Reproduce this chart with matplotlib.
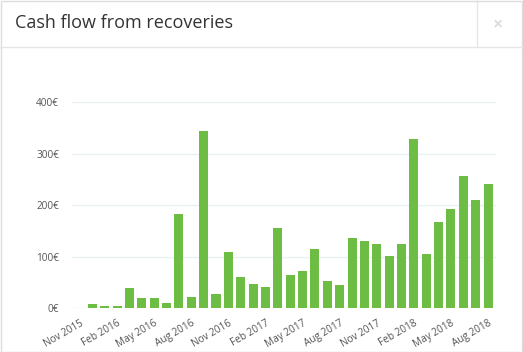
import matplotlib
matplotlib.use("Agg")
from matplotlib import pyplot as plt
from matplotlib.lines import Line2D
import pandas as pd

# monthly recoveries, Nov 2015 .. Aug 2018
months = pd.date_range("2015-11-01", "2018-08-01", freq="MS")
values = [0, 8, 4.5, 5, 39.5, 19.5, 19.5, 11, 182.5, 22, 345, 28.5,
          109.5, 61.5, 48, 41, 156.5, 65.5, 72.5, 115, 53, 46,
          137, 130, 124.5, 102.5, 125, 329.5, 105.5, 168.5, 193, 257.5,
          211, 241.5]
yticks = [0, 100, 200, 300, 400]
title = "Cash flow from recoveries"

plt.rcParams['font.family'] = ['Open Sans', 'DejaVu Sans']

fig = plt.figure(figsize=(5.23, 3.52), dpi=100)
W, H = 523.0, 352.0

# panel frame + header
fig.add_artist(plt.Rectangle((0.5 / W, 0.5 / H), 1 - 1.5 / W, 1 - 1.5 / H,
                             transform=fig.transFigure, fill=False,
                             edgecolor='#dddddd', lw=1))
fig.add_artist(Line2D([0, 1], [1 - 47 / H] * 2, transform=fig.transFigure,
                      color='#e6e6e6', lw=1))
fig.add_artist(Line2D([477 / W] * 2, [1 - 47 / H, 1], transform=fig.transFigure,
                      color='#e6e6e6', lw=1))
fig.text(15 / W, 1 - 23.5 / H, title, fontsize=13, color='#333333',
         va='center', ha='left')
fig.text(498 / W, 1 - 24 / H, "\u00d7", fontsize=13, color='#dddddd',
         va='center', ha='center', fontweight='bold')

ax = fig.add_axes([71.7 / W, (H - 308.3) / H, (495.7 - 71.7) / W, (308.3 - 102.3) / H])
x = range(len(values))
ax.bar(x, values, width=0.73, color='#6dbd45', zorder=2)
ax.set_xlim(-0.67, len(values) - 1 + 0.62)
ax.set_ylim(0, 400)
ax.set_yticks(yticks)
ax.set_yticklabels(["%d\u20ac" % v for v in yticks])
ax.grid(axis='y', color='#e8f1f3', lw=1, zorder=0)
for s in ax.spines.values():
    s.set_visible(False)

tick_pos = list(range(0, len(values), 3))
ax.set_xticks(tick_pos)
ax.set_xticklabels([months[i].strftime("%b %Y") for i in tick_pos],
                   rotation=30, ha='right', rotation_mode='anchor')
ax.tick_params(axis='both', length=0, labelsize=7.2, labelcolor='#555555')
ax.tick_params(axis='y', pad=9)
ax.tick_params(axis='x', pad=7)

plt.savefig("out.png", dpi=100)
